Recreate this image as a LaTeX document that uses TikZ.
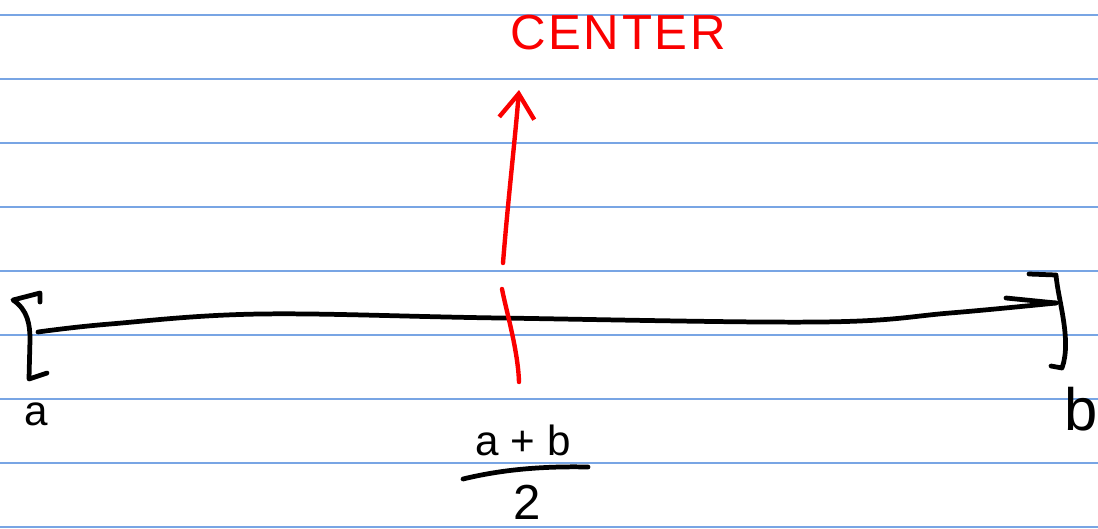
\documentclass[tikz,border=0pt]{standalone}
\usepackage{fontspec}
\setmainfont{Liberation Sans}
\usepackage{xcolor}
\usetikzlibrary{arrows.meta, positioning}
\definecolor{ruled}{RGB}{120,165,228}
\definecolor{ink}{RGB}{250,0,0}

\begin{document}
\begin{tikzpicture}[x=0.02cm, y=-0.02cm, line cap=round, line join=round,
  rule/.style={ruled, line width=0.8pt},
  pen/.style={black, line width=2.7pt},
  redpen/.style={ink, line width=2.5pt},
  hand/.style={font=\fontsize{24}{26}\selectfont, inner sep=0pt}]
  \useasboundingbox (0,0) rectangle (1098,528);
  % ruled paper
  \foreach \k in {0,...,8}
    \draw[rule] (0,15+64*\k) -- (1098,15+64*\k);

  % the interval [a,b]
  \coordinate (lft) at (38,332);
  \coordinate (rgt) at (1056,303);
  \draw[pen] plot[smooth, tension=0.6] coordinates {(lft) (110,324) (260,314) (500,318) (820,322) (950,313) (rgt)};
  \draw[pen] (1006,298) -- (rgt);
  \draw[pen] (40,302) -- (40,293) -- (13,300) .. controls (28,310) and (30,325) .. (30,340) -- (29,379) -- (47,373);
  \draw[pen] (1029,274) -- (1056,275) .. controls (1058,300) and (1072,340) .. (1062,368) -- (1051,366);
  \node[hand] (la) at (36,414) {a};
  \node[hand, font=\fontsize{34}{36}\selectfont] (lb) at (1081,409) {b};

  % midpoint
  \node[hand] (num) at (523,440) {a + b};
  \node[hand, font=\fontsize{28}{30}\selectfont] (den) at (527,502) {2};
  \draw[pen] (463,479) .. controls (500,470) and (540,466) .. (588,467);

  % center mark and arrow
  \node[hand, ink, font=\fontsize{28}{30}\selectfont] (ctr) at (618,33)
    {C\kern1.5pt E\kern1.5pt N\kern1.5pt T\kern1.5pt E\kern1.5pt R};
  \coordinate (tick1) at (502,289);
  \coordinate (tick2) at (519,382);
  \coordinate (base) at (503,263);
  \coordinate (tip) at (519,90);
  \draw[redpen] (tick1) .. controls (506,310) and (518,350) .. (tick2);
  \draw[redpen, -{Straight Barb[length=14pt, width=20pt]}] (base) .. controls (508,200) and (515,140) .. (tip);
\end{tikzpicture}
\end{document}
